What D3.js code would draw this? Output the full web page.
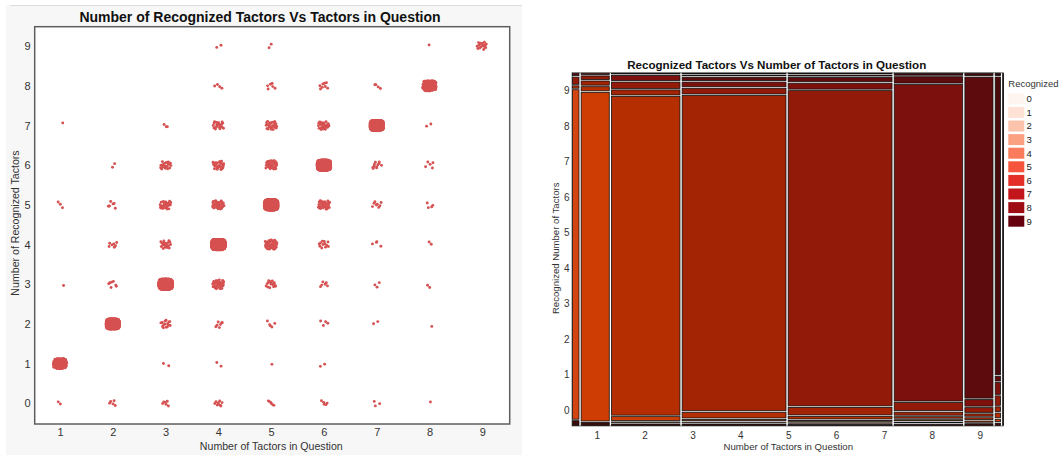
<!DOCTYPE html>
<html>
<head>
<meta charset="utf-8">
<script src="https://cdn.jsdelivr.net/npm/d3@7"></script>
<style>
  html, body { margin: 0; padding: 0; background: #ffffff; }
  svg { display: block; font-family: "Liberation Sans", Arial, sans-serif; }
</style>
</head>
<body>
<svg id="chart" width="1063" height="456"></svg>
<script>
// Number of tactors in question (x) and number of recognized tactors (y)
const tactorsInQuestion = [1, 2, 3, 4, 5, 6, 7, 8, 9];
const recognizedLevels = [0, 1, 2, 3, 4, 5, 6, 7, 8, 9];

// Trial counts per recognized level (0..9), one array per number of tactors in question
const q1 = [2, 137, 0, 1, 0, 3, 0, 1, 0, 0];
const q2 = [5, 0, 549, 7, 7, 6, 2, 0, 0, 0];
const q3 = [6, 2, 15, 1253, 20, 25, 20, 3, 0, 0];
const q4 = [9, 2, 7, 34, 1876, 34, 28, 20, 4, 2];
const q5 = [6, 1, 5, 15, 45, 1876, 35, 25, 6, 2];
const q6 = [5, 2, 4, 6, 12, 32, 1250, 25, 8, 0];
const q7 = [3, 0, 2, 3, 4, 8, 11, 541, 4, 0];
const q8 = [1, 0, 1, 2, 2, 4, 5, 2, 126, 1];
const q9 = [0, 0, 0, 0, 0, 0, 0, 0, 0, 16];
const trialCounts = [q1, q2, q3, q4, q5, q6, q7, q8, q9];

const xTickLabels = ["1", "2", "3", "4", "5", "6", "7", "8", "9"];
const yTickLabels = ["0", "1", "2", "3", "4", "5", "6", "7", "8", "9"];

// Legend swatches (Reds ramp) and mosaic tile fills per recognized level
const legendColors = ["#FFF5F0", "#FEE2D5", "#FCC3AC", "#FCA082", "#FB7C5C",
                      "#F6553D", "#E32F27", "#C3161B", "#9E0D14", "#67000D"];
const tileColors = ["#3A0B08", "#D34410", "#CD3D04", "#B52E01", "#A32305",
                    "#911A08", "#7B100D", "#5E0B0E", "#4A090C", "#2E0608"];

const pointColor = "#D65151";

const svg = d3.select("#chart");

// ---------------- Left: jittered scatter ----------------
const L = { x0: 34.7, x1: 509.7, y0: 26.7, y1: 424 };

svg.append("rect").attr("x", 6).attr("y", 5).attr("width", 516).attr("height", 450)
  .attr("fill", "#f7f7f7");
svg.append("line").attr("x1", 10).attr("x2", 522).attr("y1", 5.5).attr("y2", 5.5)
  .attr("stroke", "#dcdcdc").attr("stroke-width", 1);

svg.append("rect")
  .attr("x", L.x0).attr("y", L.y0)
  .attr("width", L.x1 - L.x0).attr("height", L.y1 - L.y0)
  .attr("fill", "#ffffff").attr("stroke", "#5e5e5e").attr("stroke-width", 1.5);

const xs = d3.scaleLinear().domain([0.52, 9.52]).range([L.x0, L.x1]);
const ys = d3.scaleLinear().domain([-0.52, 9.49]).range([L.y1, L.y0]);

// low-discrepancy sequence used to spread overlapping points (jitter)
function halton(i, base) {
  let f = 1, r = 0;
  while (i > 0) { f /= base; r += f * (i % base); i = Math.floor(i / base); }
  return r;
}
// offsets inside a rounded box; small groups stay somewhat compact
function jitterOffsets(n, seed) {
  const scale = Math.min(1, 0.55 + 0.45 * Math.sqrt(n / 70));
  const out = [];
  let idx = seed;
  while (out.length < n) {
    const u = halton(idx, 2) * 2 - 1, v = halton(idx, 3) * 2 - 1;
    idx++;
    if (u ** 4 + v ** 4 <= 1) out.push([u * scale, v * scale]);
  }
  return out;
}

const jitterW = 0.128, jitterH = 0.132;
const points = [];
trialCounts.forEach((row, qi) => {
  const q = tactorsInQuestion[qi];
  row.forEach((n, ri) => {
    const rec = recognizedLevels[ri];
    jitterOffsets(n, 1 + (q * 13 + rec * 7) * 11).forEach(([u, v]) => {
      points.push({ x: q + u * jitterW, y: rec + v * jitterH });
    });
  });
});

svg.append("g").selectAll("circle").data(points).join("circle")
  .attr("cx", d => xs(d.x)).attr("cy", d => ys(d.y))
  .attr("r", 1.45).attr("fill", pointColor);

const lxAxis = svg.append("g").attr("transform", `translate(0,${L.y1})`)
  .call(d3.axisBottom(xs).tickValues(tactorsInQuestion)
    .tickFormat((d, i) => xTickLabels[i]).tickSize(0).tickPadding(4));
const lyAxis = svg.append("g").attr("transform", `translate(${L.x0},0)`)
  .call(d3.axisLeft(ys).tickValues(recognizedLevels)
    .tickFormat((d, i) => yTickLabels[i]).tickSize(0).tickPadding(4));
[lxAxis, lyAxis].forEach(a => {
  a.select(".domain").remove();
  a.selectAll("text").attr("font-size", 11).attr("fill", "#333")
    .attr("font-family", "\"Liberation Sans\", Arial, sans-serif");
});

svg.append("text").attr("x", 260).attr("y", 21.6).attr("text-anchor", "middle")
  .attr("font-size", 14).attr("font-weight", "bold").attr("fill", "#111")
  .text("Number of Recognized Tactors Vs Tactors in Question");
svg.append("text").attr("x", 271.3).attr("y", 449.8).attr("text-anchor", "middle")
  .attr("font-size", 10.6).attr("fill", "#333")
  .text("Number of Tactors in Question");
svg.append("text").attr("transform", "translate(18.7,223) rotate(-90)")
  .attr("text-anchor", "middle").attr("font-size", 10.6).attr("fill", "#333")
  .text("Number of Recognized Tactors");

// ---------------- Right: mosaic ----------------
const R = { x0: 572, x1: 1003, y0: 72.7, y1: 426 };

svg.append("rect")
  .attr("x", R.x0).attr("y", R.y0)
  .attr("width", R.x1 - R.x0).attr("height", R.y1 - R.y0)
  .attr("fill", "#ffffff").attr("stroke", "#9a9a9a").attr("stroke-width", 1.2);

const mx = d3.scaleLinear().domain([0, 1]).range([R.x0 + 0.5, R.x1 - 0.5]);
const my = d3.scaleLinear().domain([0, 1]).range([R.y1 - 0.5, R.y0 + 0.5]);
const colTotals = trialCounts.map(r => d3.sum(r));
const grand = d3.sum(colTotals);
const gapX = 2.2, gapY = 1.5;
const plotH = (R.y1 - R.y0 - 1);

const tiles = [];
let cum = 0;
trialCounts.forEach((row, qi) => {
  const p0 = cum / grand;
  cum += colTotals[qi];
  const p1 = cum / grand;
  let left = mx(p0) + (qi > 0 ? gapX / 2 : 0);
  let right = mx(p1) - (qi < trialCounts.length - 1 ? gapX / 2 : 0);
  if (right - left < 0.8) right = left + 0.8;
  const nonZero = row.map((n, ri) => ({ n, ri })).filter(d => d.n > 0);
  const gapProp = gapY / plotH;
  const usable = 1 - gapProp * (nonZero.length - 1);
  let acc = 0;
  nonZero.forEach(d => {
    const h = d.n / colTotals[qi] * usable;
    tiles.push({ x0: left, x1: right, v0: acc, v1: acc + h, rec: recognizedLevels[d.ri] });
    acc += h + gapProp;
  });
});

svg.append("g").selectAll("rect").data(tiles).join("rect")
  .attr("x", d => d.x0).attr("width", d => d.x1 - d.x0)
  .attr("y", d => my(d.v1)).attr("height", d => Math.max(0.4, my(d.v0) - my(d.v1)))
  .attr("fill", d => tileColors[d.rec])
  .attr("stroke", "#111").attr("stroke-width", 0.8);

const rxs = d3.scaleLinear().domain([0.484, 9.486]).range([R.x0, R.x1]);
const rys = d3.scaleLinear().domain([-0.45, 9.507]).range([R.y1, R.y0]);

const rxAxis = svg.append("g").attr("transform", `translate(0,${R.y1})`)
  .call(d3.axisBottom(rxs).tickValues(tactorsInQuestion)
    .tickFormat((d, i) => xTickLabels[i]).tickSize(0).tickPadding(5.5));
const ryAxis = svg.append("g").attr("transform", `translate(${R.x0},0)`)
  .call(d3.axisLeft(rys).tickValues(recognizedLevels)
    .tickFormat((d, i) => yTickLabels[i]).tickSize(0).tickPadding(2.5));
[rxAxis, ryAxis].forEach(a => {
  a.select(".domain").remove();
  a.selectAll("text").attr("font-size", 10).attr("fill", "#333")
    .attr("font-family", "\"Liberation Sans\", Arial, sans-serif");
});

svg.append("text").attr("x", 776.7).attr("y", 68.9).attr("text-anchor", "middle")
  .attr("font-size", 11.6).attr("font-weight", "bold").attr("fill", "#111")
  .text("Recognized Tactors Vs Number of Tactors in Question");
svg.append("text").attr("x", 788.3).attr("y", 450).attr("text-anchor", "middle")
  .attr("font-size", 9.6).attr("fill", "#333")
  .text("Number of Tactors in Question");
svg.append("text").attr("transform", "translate(559.4,248.3) rotate(-90)")
  .attr("text-anchor", "middle").attr("font-size", 9.6).attr("fill", "#333")
  .text("Recognized Number of Tactors");

// Legend
const legend = svg.append("g");
legend.append("text").attr("x", 1008.3).attr("y", 87.3)
  .attr("font-size", 9.5).attr("fill", "#333").text("Recognized");
const keys = legend.selectAll("g.key").data(recognizedLevels).join("g").attr("class", "key")
  .attr("transform", (d, i) => `translate(1008.3,${93.3 + i * 13.6})`);
keys.append("rect").attr("width", 16).attr("height", 11)
  .attr("fill", d => legendColors[d]);
keys.append("text").attr("x", 18.3).attr("y", 8.8)
  .attr("font-size", 9.5).attr("fill", "#222").text((d, i) => yTickLabels[i]);
</script>
</body>
</html>
